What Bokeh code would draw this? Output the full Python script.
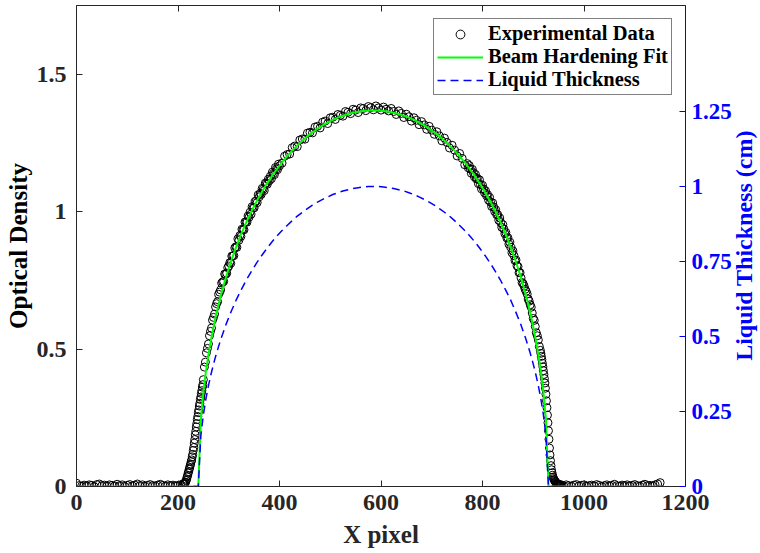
import math
from bokeh.plotting import figure
from bokeh.models import (Range1d, LinearAxis, FixedTicker, CustomJSTickFormatter,
                          Legend, LegendItem, Label)
from bokeh.embed import file_html
from bokeh.resources import INLINE

# ---------------- data ----------------
# sample positions of the experimental points (denser where the profile is steep)
x_data = (list(range(0, 211, 5)) + list(range(211, 251)) + list(range(252, 401, 2))
          + list(range(405, 766, 5)) + list(range(770, 915, 2))
          + list(range(915, 956)) + list(range(960, 1151, 5)))

od_data = [
    # 0 .. 210 (step 5)
    0.012, 0.003, 0.001, 0.005, 0.002, 0.006, 0.004, -0.001, 0.007, 0.009,
    0.003, 0.005, 0.001, 0.006, 0.004, 0.002, 0.008, 0.003, 0.006, 0.000,
    0.004, 0.007, 0.002, 0.005, 0.009, 0.003, 0.006, 0.001, 0.004, 0.007,
    0.003, 0.002, 0.005, 0.008, 0.004, 0.001, 0.006, 0.003, 0.005, 0.002,
    0.004, 0.006, 0.009,
    # 211 .. 250 (step 1)
    0.008, 0.011, 0.010, 0.015, 0.016, 0.022, 0.026, 0.035, 0.040, 0.049,
    0.054, 0.063, 0.068, 0.077, 0.082, 0.091, 0.097, 0.108, 0.117, 0.131,
    0.142, 0.158, 0.171, 0.188, 0.201, 0.217, 0.229, 0.244, 0.255, 0.269,
    0.279, 0.293, 0.303, 0.317, 0.326, 0.339, 0.349, 0.362, 0.371, 0.389,
    # 252 .. 400 (step 2)
    0.435, 0.453, 0.487, 0.503, 0.519, 0.549, 0.565, 0.577, 0.606, 0.616,
    0.628, 0.654, 0.666, 0.673, 0.700, 0.708, 0.716, 0.741, 0.745, 0.747,
    0.774, 0.773, 0.777, 0.797, 0.803,
    0.815, 0.813, 0.839, 0.840, 0.841, 0.869, 0.873, 0.871, 0.902, 0.897,
    0.914, 0.911, 0.937, 0.935, 0.935, 0.963, 0.964, 0.963, 0.985, 0.981,
    0.999, 0.992, 1.019, 1.015, 1.015, 1.038, 1.039, 1.034, 1.062, 1.055,
    1.068, 1.064, 1.086, 1.083, 1.078, 1.105, 1.104, 1.101, 1.119, 1.114,
    1.130, 1.121, 1.145, 1.140, 1.136, 1.162, 1.157, 1.154, 1.174, 1.168,
    # 405 .. 765 (step 5)
    1.178, 1.203, 1.209, 1.211, 1.234, 1.240, 1.238, 1.262, 1.266, 1.265,
    1.287, 1.290, 1.288, 1.309, 1.312, 1.306, 1.327, 1.331, 1.322, 1.343,
    1.345, 1.337, 1.355, 1.352, 1.349, 1.366, 1.363, 1.358, 1.374, 1.371,
    1.362, 1.379, 1.377, 1.369, 1.384, 1.380, 1.372, 1.386, 1.379, 1.371,
    1.382, 1.374, 1.368, 1.377, 1.366, 1.355, 1.368, 1.359, 1.344, 1.356,
    1.347, 1.331, 1.343, 1.334, 1.318, 1.329, 1.317, 1.301, 1.312, 1.298,
    1.283, 1.292, 1.277, 1.259, 1.269, 1.253, 1.233, 1.243, 1.225, 1.204,
    1.213, 1.195, 1.172,
    # 770 .. 914 (step 2)
    1.176, 1.161, 1.169, 1.156, 1.141, 1.155, 1.143, 1.128, 1.137, 1.120,
    1.122, 1.103, 1.117, 1.100, 1.084, 1.097, 1.084, 1.070, 1.077, 1.059,
    1.063, 1.043, 1.053, 1.035, 1.020, 1.033, 1.018, 1.002, 1.008, 0.990,
    0.990, 0.970, 0.978, 0.961, 0.944, 0.954, 0.938, 0.921, 0.925, 0.905,
    0.906, 0.883, 0.890, 0.871, 0.852, 0.858, 0.841, 0.823, 0.825, 0.804,
    0.801, 0.779, 0.779, 0.760, 0.743, 0.739,
    0.730, 0.718, 0.711, 0.701, 0.683, 0.675, 0.662, 0.653, 0.632, 0.612,
    0.605, 0.583, 0.560, 0.549, 0.534, 0.510, 0.496,
    # 915 .. 955 (step 1)
    0.485, 0.474, 0.462, 0.449, 0.436, 0.422, 0.408, 0.393, 0.377, 0.358,
    0.336, 0.312, 0.287, 0.260, 0.232, 0.203, 0.172, 0.140, 0.115, 0.094,
    0.076, 0.061, 0.050, 0.041, 0.034, 0.029, 0.025, 0.022, 0.019, 0.016,
    0.014, 0.012, 0.010, 0.009, 0.008, 0.007, 0.006, 0.006, 0.005, 0.007,
    0.004,
    # 960 .. 1150 (step 5)
    0.002, 0.006, 0.003, 0.001, 0.005, 0.007, 0.002, 0.004, 0.006, 0.001,
    0.003, 0.005, 0.002, 0.007, 0.004, 0.000, 0.003, 0.006, 0.002, 0.004,
    0.008, 0.003, 0.001, 0.005, 0.003, 0.006, 0.002, 0.004, 0.007, 0.003,
    0.001, 0.005, 0.008, 0.003, 0.004, 0.002, 0.006, 0.009, 0.014,
]

x_fit = [0, 240, 245, 250, 255, 260, 265, 270, 275, 280, 285,
         295, 305, 315, 325, 335, 345, 355, 365, 375, 385, 395, 405, 415,
         425, 435, 445, 455, 465, 475, 485, 495, 505, 515, 525, 535, 545,
         555, 565, 575, 585, 595, 605, 615, 625, 635, 645, 655, 665, 675,
         685, 695, 705, 715, 725, 735, 745, 755, 765, 775, 785, 795, 805,
         815, 825, 835, 845, 855, 865, 875,
         885, 890, 895, 900, 905, 910, 915, 920, 925, 930, 1150]

od_fit = [0, 0, 0.2457, 0.3446, 0.4190, 0.4806, 0.5340, 0.5815, 0.6244, 0.6637, 0.7000,
          0.7654, 0.8232, 0.8749, 0.9217, 0.9642, 1.0032, 1.0390, 1.0719, 1.1024,
          1.1305, 1.1565, 1.1805, 1.2028, 1.2233, 1.2422, 1.2595, 1.2754, 1.2900,
          1.3032, 1.3151, 1.3257, 1.3352, 1.3434, 1.3505, 1.3565, 1.3614, 1.3652,
          1.3679, 1.3695, 1.3700, 1.3695, 1.3679, 1.3652, 1.3614, 1.3565, 1.3505,
          1.3434, 1.3352, 1.3257, 1.3151, 1.3032, 1.2900, 1.2754, 1.2595, 1.2422,
          1.2233, 1.2028, 1.1805, 1.1565, 1.1305, 1.1024, 1.0719, 1.0390, 1.0032,
          0.9642, 0.9217, 0.8749, 0.8232, 0.7654,
          0.7000, 0.6637, 0.6244, 0.5815, 0.5340, 0.4806, 0.4190, 0.3446, 0.2457, 0, 0]

thickness = [0, 0, 0.170, 0.239, 0.292, 0.336, 0.374, 0.408, 0.439, 0.467, 0.494,
             0.542, 0.584, 0.623, 0.657, 0.689, 0.718, 0.745, 0.770, 0.793,
             0.815, 0.835, 0.853, 0.870, 0.886, 0.901, 0.914, 0.926, 0.938,
             0.948, 0.957, 0.965, 0.973, 0.979, 0.985, 0.989, 0.993, 0.996,
             0.998, 1.000, 1.000, 1.000, 0.998, 0.996, 0.993, 0.989, 0.985,
             0.979, 0.973, 0.965, 0.957, 0.948, 0.938, 0.926, 0.914, 0.901,
             0.886, 0.870, 0.853, 0.835, 0.815, 0.793, 0.770, 0.745, 0.718,
             0.689, 0.657, 0.623, 0.584, 0.542,
             0.494, 0.467, 0.439, 0.408, 0.374, 0.336, 0.292, 0.239, 0.170, 0, 0]

x_ticks = [0, 200, 400, 600, 800, 1000, 1200]
od_ticks = [0, 0.5, 1, 1.5]
thick_ticks = [0, 0.25, 0.5, 0.75, 1, 1.25]

assert len(x_data) == len(od_data), (len(x_data), len(od_data))
assert len(x_fit) == len(od_fit) == len(thickness)

# ---------------- figure ----------------
FONT = "Liberation Serif"
AX = "#262626"
BLUE = "#0000FF"
fmt = CustomJSTickFormatter(code="return tick.toString();")

p = figure(width=760, height=553, output_backend="svg", toolbar_location=None,
           x_range=Range1d(0, 1200), y_range=Range1d(0, 1.752),
           min_border_left=76, min_border_right=74, min_border_top=5,
           min_border_bottom=67)
p.extra_y_ranges = {"thick": Range1d(0, 1.603)}
p.xgrid.visible = False
p.ygrid.visible = False
p.outline_line_color = None
p.background_fill_color = "white"

xa = p.xaxis[0]
xa.ticker = FixedTicker(ticks=x_ticks)
xa.formatter = fmt
xa.axis_label = "X pixel"
ya = p.yaxis[0]
ya.ticker = FixedTicker(ticks=od_ticks)
ya.formatter = fmt
ya.axis_label = "Optical Density"

for ax in (xa, ya):
    ax.axis_line_color = AX
    ax.major_tick_line_color = AX
    ax.minor_tick_line_color = None
    ax.major_tick_in = 6
    ax.major_tick_out = 0
    ax.major_label_text_font = FONT
    ax.major_label_text_font_style = "bold"
    ax.major_label_text_font_size = "24px"
    ax.major_label_text_color = AX
    ax.axis_label_text_font = FONT
    ax.axis_label_text_font_style = "bold"
    ax.axis_label_text_font_size = "25px"
    ax.axis_label_text_color = AX
ya.axis_label_text_color = "black"
xa.major_label_standoff = 8
ya.major_label_standoff = 10
xa.axis_label_standoff = 8
ya.axis_label_standoff = 2

# top edge of the box with inward ticks
ta = LinearAxis(ticker=FixedTicker(ticks=x_ticks),
                formatter=CustomJSTickFormatter(code="return '';"))
ta.axis_line_color = AX
ta.major_tick_line_color = AX
ta.minor_tick_line_color = None
ta.major_tick_in = 6
ta.major_tick_out = 0
ta.major_label_standoff = 0
p.add_layout(ta, "above")

# right axis: liquid thickness
ra = LinearAxis(y_range_name="thick", ticker=FixedTicker(ticks=thick_ticks), formatter=fmt)
ra.axis_line_color = BLUE
ra.major_tick_line_color = BLUE
ra.minor_tick_line_color = None
ra.major_tick_in = 6
ra.major_tick_out = 0
ra.major_label_text_font = FONT
ra.major_label_text_font_style = "bold"
ra.major_label_text_font_size = "23px"
ra.major_label_text_color = BLUE
ra.major_label_standoff = 6
p.add_layout(ra, "right")

# right axis title, reading bottom-to-top like the reference (in its own side panel)
rtitle = Label(text="Liquid Thickness (cm)", x=9, y=241, x_units="screen", y_units="screen",
               angle=math.pi / 2, text_align="center", text_baseline="middle",
               text_font=FONT, text_font_style="bold", text_font_size="24px",
               text_color=BLUE)
p.add_layout(rtitle, "right")

# ---------------- glyphs ----------------
sc = p.scatter(x_data, od_data, marker="circle", size=8, fill_color=None,
               line_color="black", line_width=1)
gl = p.line(x_fit, od_fit, line_color="#00FF00", line_width=2)
bl = p.line(x_fit, thickness, y_range_name="thick", line_color=BLUE,
            line_width=1.5, line_dash="8 5")

legend = Legend(items=[LegendItem(label="Experimental Data", renderers=[sc]),
                       LegendItem(label="Beam Hardening Fit", renderers=[gl]),
                       LegendItem(label="Liquid Thickness", renderers=[bl])],
                location=(357, 391))
legend.label_text_font = FONT
legend.label_text_font_style = "bold"
legend.label_text_font_size = "20.5px"
legend.label_text_color = "black"
legend.label_height = 22
legend.glyph_height = 22
legend.glyph_width = 46
legend.label_standoff = 5
legend.padding = 3
legend.spacing = 0
legend.margin = 0
legend.border_line_color = "black"
legend.border_line_width = 1
legend.background_fill_color = "white"
legend.background_fill_alpha = 1
p.add_layout(legend)

open("out.html", "w").write(file_html(p, INLINE))
